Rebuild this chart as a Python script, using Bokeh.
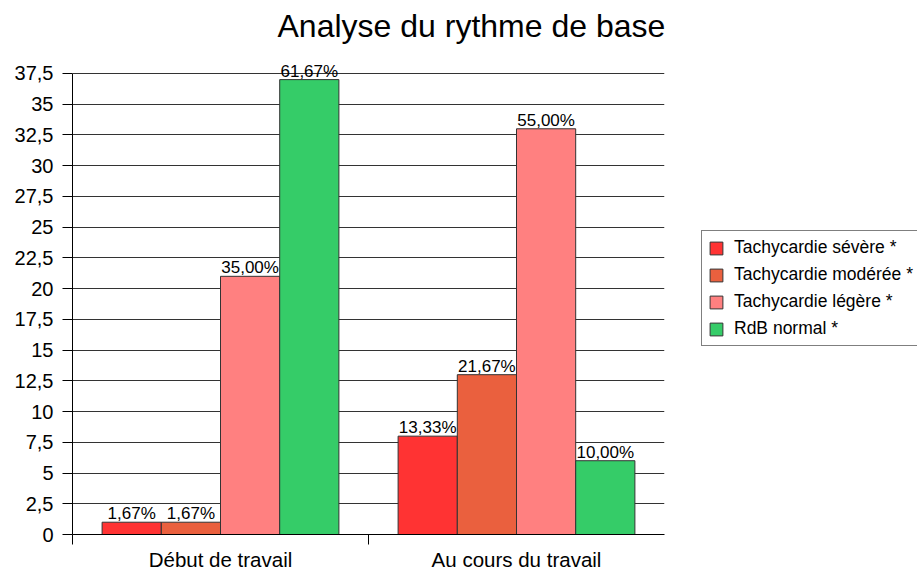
from bokeh.plotting import figure
from bokeh.layouts import column, row
from bokeh.models import ColumnDataSource, Range1d, FixedTicker, LabelSet, Legend, LegendItem, Label
from bokeh.core.properties import value
from bokeh.embed import file_html
from bokeh.resources import INLINE

title = "Analyse du rythme de base"
categories = ["Début de travail", "Au cours du travail"]
series = ["Tachycardie sévère *", "Tachycardie modérée *", "Tachycardie légère *", "RdB normal *"]
colors = ["#ff3333", "#ea603e", "#ff8080", "#35cc68"]
severe = [1, 8]
moderate = [1, 13]
legere = [21, 33]
normal = [37, 6]
total = 60
y_ticks = [0, 2.5, 5, 7.5, 10, 12.5, 15, 17.5, 20, 22.5, 25, 27.5, 30, 32.5, 35, 37.5]

values = [severe, moderate, legere, normal]
FONT = "Liberation Sans"

# ---- title strip (pixel coordinates) ----
tf = figure(width=917, height=48, output_backend="svg", toolbar_location=None,
            x_range=Range1d(0, 917), y_range=Range1d(0, 48),
            x_axis_type=None, y_axis_type=None, min_border=0)
tf.outline_line_color = None
tf.grid.visible = False
tf.add_layout(Label(x=277, y=23, text=title, text_font=FONT, text_font_size="32px",
                    text_baseline="middle", text_align="left", text_color="#000000"))

# ---- main chart ----
p = figure(width=698, height=525, output_backend="svg", toolbar_location=None,
           x_range=Range1d(0, 2), y_range=Range1d(0, 39.53),
           min_border_left=72, min_border_right=34, min_border_top=0, min_border_bottom=38)
p.outline_line_color = None

bw = 0.2
sources = []
for j, (name, vals, col) in enumerate(zip(series, values, colors)):
    xs = [i + 0.5 + (j - 1.5) * bw for i in range(len(categories))]
    labels = [("%.2f%%" % (v * 100.0 / total)).replace(".", ",") for v in vals]
    src = ColumnDataSource(dict(x=xs, top=vals, lab=labels))
    sources.append(src)
    p.vbar(x="x", top="top", width=bw, source=src, fill_color=col, line_color="#333333", line_width=1)
    ls = LabelSet(x="x", y="top", text="lab", source=src, text_align="center", text_baseline="alphabetic",
                  y_offset=3, text_font=value(FONT), text_font_size="17px", text_color="#000000")
    p.add_layout(ls)

p.yaxis.ticker = FixedTicker(ticks=y_ticks)
p.yaxis.bounds = (0, 37.5)
p.yaxis.major_label_overrides = {t: (("%g" % t).replace(".", ",")) for t in y_ticks}
p.yaxis.major_tick_out = 10
p.yaxis.major_tick_in = 0
p.yaxis.minor_tick_line_color = None
p.yaxis.major_label_standoff = 9
p.yaxis.major_label_text_font = FONT
p.yaxis.major_label_text_font_size = "20px"
p.yaxis.major_label_text_color = "#000000"
p.yaxis.axis_line_color = "#000000"
p.yaxis.major_tick_line_color = "#000000"

p.xaxis.ticker = FixedTicker(ticks=[i + 0.5 for i in range(len(categories))],
                             minor_ticks=list(range(len(categories))))
p.xaxis.major_label_overrides = {i + 0.5: c for i, c in enumerate(categories)}
p.xaxis.major_tick_line_color = None
p.xaxis.major_tick_out = 0
p.xaxis.major_tick_in = 0
p.xaxis.minor_tick_out = 10
p.xaxis.minor_tick_in = 0
p.xaxis.minor_tick_line_color = "#000000"
p.xaxis.axis_line_color = "#000000"
p.xaxis.major_label_standoff = 3
p.xaxis.major_label_text_font = FONT
p.xaxis.major_label_text_font_size = "20.5px"
p.xaxis.major_label_text_color = "#000000"

p.xgrid.grid_line_color = None
p.ygrid.ticker = FixedTicker(ticks=y_ticks)
p.ygrid.grid_line_color = "#333333"
p.ygrid.grid_line_width = 1

# ---- legend panel (its renderers are hidden; only the legend shows) ----
lf = figure(width=219, height=525, output_backend="svg", toolbar_location=None,
            x_range=Range1d(10, 11), y_range=Range1d(-20, -10),
            x_axis_type=None, y_axis_type=None, min_border=0)
lf.outline_line_color = None
lf.grid.visible = False
items = []
for name, col, src in zip(series, colors, sources):
    r = lf.vbar(x="x", top="top", width=bw, source=src, fill_color=col, line_color="#333333", line_width=1)
    r.visible = False
    items.append(LegendItem(label=name, renderers=[r]))
legend = Legend(items=items, location=(3, 188), border_line_color="#000000", border_line_width=1,
                background_fill_color="#ffffff", background_fill_alpha=1,
                glyph_width=16, glyph_height=16, label_height=20, label_standoff=10,
                spacing=6, padding=6, margin=0, click_policy="none",
                label_text_font=FONT, label_text_font_size="17.5px", label_text_color="#000000")
lf.add_layout(legend, "center")

layout = column(tf, row(p, lf, spacing=0), spacing=0)
open("out.html", "w").write(file_html(layout, INLINE))
